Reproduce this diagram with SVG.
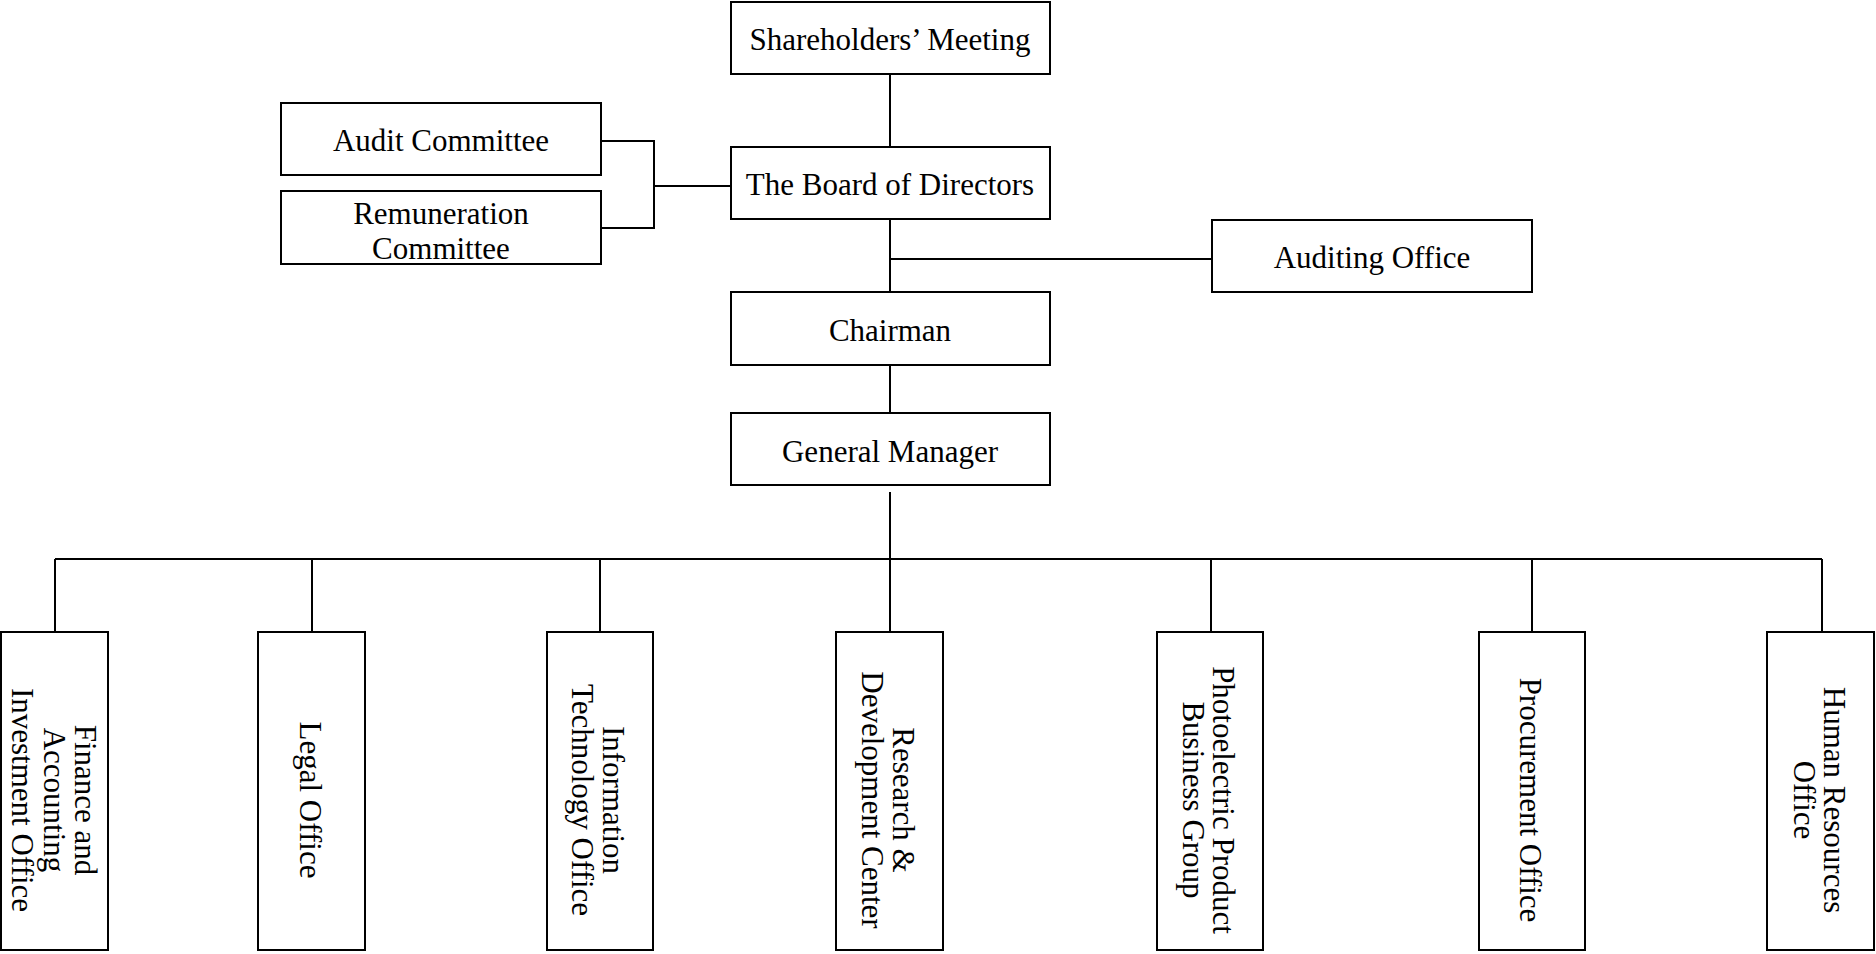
<svg xmlns="http://www.w3.org/2000/svg" width="1876" height="954" viewBox="0 0 1876 954">
<style>
rect.box { fill: #ffffff; stroke: #000000; stroke-width: 2; }
.conn line, .conn polyline { stroke: #000000; stroke-width: 2; fill: none; }
text { font-family: "Liberation Serif", "Times New Roman", serif; font-size: 31px; fill: #000000; text-anchor: middle; }
</style>
<rect x="0" y="0" width="1876" height="954" fill="#ffffff"/>
<g id="connectors" class="conn">
  <line x1="890" y1="74" x2="890" y2="147"/>
  <polyline points="601,141 654,141 654,228 601,228"/>
  <line x1="654" y1="186" x2="731" y2="186"/>
  <line x1="890" y1="219" x2="890" y2="292"/>
  <line x1="890" y1="259" x2="1212" y2="259"/>
  <line x1="890" y1="365" x2="890" y2="413"/>
  <line x1="890" y1="492" x2="890" y2="632"/>
  <line x1="55" y1="559" x2="1822" y2="559"/>
  <line x1="55" y1="559" x2="55" y2="632"/>
  <line x1="312" y1="559" x2="312" y2="632"/>
  <line x1="600" y1="559" x2="600" y2="632"/>
  <line x1="1211" y1="559" x2="1211" y2="632"/>
  <line x1="1532" y1="559" x2="1532" y2="632"/>
  <line x1="1822" y1="559" x2="1822" y2="632"/>
</g>
<g id="shareholders">
  <rect class="box" x="731" y="2" width="319" height="72"/>
  <text x="890" y="50">Shareholders’ Meeting</text>
</g>
<g id="audit-committee">
  <rect class="box" x="281" y="103" width="320" height="72"/>
  <text x="441" y="151">Audit Committee</text>
</g>
<g id="board">
  <rect class="box" x="731" y="147" width="319" height="72"/>
  <text x="890" y="195">The Board of Directors</text>
</g>
<g id="remuneration-committee">
  <rect class="box" x="281" y="191" width="320" height="73"/>
  <text x="441" y="224">Remuneration</text>
  <text x="441" y="258.5">Committee</text>
</g>
<g id="auditing-office">
  <rect class="box" x="1212" y="220" width="320" height="72"/>
  <text x="1372" y="268">Auditing Office</text>
</g>
<g id="chairman">
  <rect class="box" x="731" y="292" width="319" height="73"/>
  <text x="890" y="341">Chairman</text>
</g>
<g id="general-manager">
  <rect class="box" x="731" y="413" width="319" height="72"/>
  <text x="890" y="462">General Manager</text>
</g>
<g id="finance">
  <rect class="box" x="1" y="632" width="107" height="318"/>
  <g transform="translate(55,800) rotate(90)">
    <text x="0" y="-20">Finance and</text>
    <text x="0" y="11.5">Accounting</text>
    <text x="0" y="43">Investment Office</text>
  </g>
</g>
<g id="legal">
  <rect class="box" x="258" y="632" width="107" height="318"/>
  <g transform="translate(312,800) rotate(90)">
    <text x="0" y="12">Legal Office</text>
  </g>
</g>
<g id="it">
  <rect class="box" x="547" y="632" width="106" height="318"/>
  <g transform="translate(600,800) rotate(90)">
    <text x="0" y="-3">Information</text>
    <text x="0" y="28">Technology Office</text>
  </g>
</g>
<g id="rnd">
  <rect class="box" x="836" y="632" width="107" height="318"/>
  <g transform="translate(890,800) rotate(90)">
    <text x="0" y="-3">Research &amp;</text>
    <text x="0" y="28">Development Center</text>
  </g>
</g>
<g id="photoelectric">
  <rect class="box" x="1157" y="632" width="106" height="318"/>
  <g transform="translate(1210,800) rotate(90)">
    <text x="0" y="-3">Photoelectric Product</text>
    <text x="0" y="27">Business Group</text>
  </g>
</g>
<g id="procurement">
  <rect class="box" x="1479" y="632" width="106" height="318"/>
  <g transform="translate(1532,800) rotate(90)">
    <text x="0" y="12">Procurement Office</text>
  </g>
</g>
<g id="hr">
  <rect class="box" x="1767" y="632" width="107" height="318"/>
  <g transform="translate(1821,800) rotate(90)">
    <text x="0" y="-2.5">Human Resources</text>
    <text x="0" y="27.5">Office</text>
  </g>
</g>
</svg>
